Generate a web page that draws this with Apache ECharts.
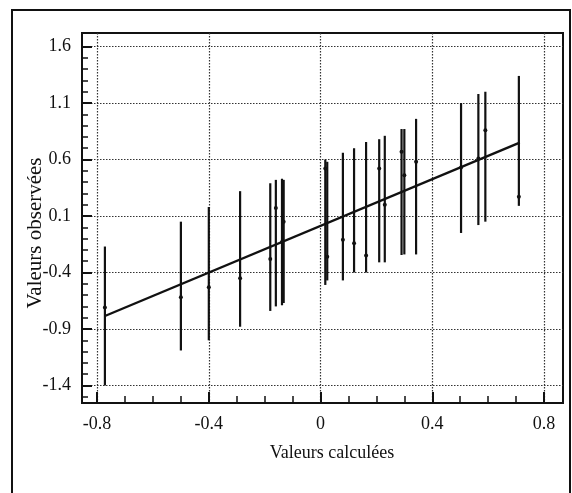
<!DOCTYPE html>
<html>
<head>
<meta charset="utf-8">
<script src="https://cdn.jsdelivr.net/npm/echarts@6/dist/echarts.min.js"></script>
<style>
  html, body { margin: 0; padding: 0; background: #fff; }
  #chart { width: 572px; height: 493px; }
</style>
</head>
<body>
<div id="chart"></div>
<script>
// barres : position calculée, bornes basse / haute, point observé
const barX    = [-0.772, -0.50, -0.40, -0.288, -0.18, -0.16, -0.138, -0.132, 0.017, 0.024, 0.08, 0.12, 0.163, 0.21, 0.23, 0.29, 0.30, 0.342, 0.503, 0.565, 0.59, 0.71];
const barLow  = [-1.40, -1.09, -1.00, -0.88, -0.74, -0.70, -0.69, -0.67, -0.51, -0.47, -0.47, -0.40, -0.40, -0.31, -0.31, -0.245, -0.24, -0.24, -0.05, 0.02, 0.05, 0.19];
const barHigh = [-0.17, 0.05, 0.18, 0.32, 0.39, 0.42, 0.43, 0.42, 0.60, 0.58, 0.66, 0.70, 0.755, 0.78, 0.81, 0.87, 0.87, 0.96, 1.10, 1.18, 1.20, 1.34];
const barMid  = [-0.71, -0.62, -0.53, -0.45, -0.28, 0.17, -0.13, 0.05, 0.52, -0.26, -0.11, -0.14, -0.25, 0.52, 0.20, 0.67, 0.46, 0.58, 0.53, 0.61, 0.86, 0.27];

// droite de régression
const fitX = [-0.772, 0.713];
const fitY = [-0.785, 0.75];

// graduations
const xTicks = [-0.8, -0.4, 0, 0.4, 0.8];
const xMinor = [-0.8, -0.7, -0.6, -0.5, -0.4, -0.3, -0.2, -0.1, 0, 0.1, 0.2, 0.3, 0.4, 0.5, 0.6, 0.7, 0.8];
const yTicks = [-1.4, -0.9, -0.4, 0.1, 0.6, 1.1, 1.6];
const yMinor = [-1.5, -1.4, -1.3, -1.2, -1.1, -1.0, -0.9, -0.8, -0.7, -0.6, -0.5, -0.4, -0.3, -0.2, -0.1, 0, 0.1, 0.2, 0.3, 0.4, 0.5, 0.6, 0.7, 0.8, 0.9, 1.0, 1.1, 1.2, 1.3, 1.4, 1.5, 1.6];

const font = 'Liberation Serif';
const ink = '#111';

const chart = echarts.init(document.getElementById('chart'));

const gridLine = { show: true, lineStyle: { color: '#333', width: 1.2, type: [1.5, 1.5] } };
const noLine = { show: false, onZero: false };

const option = {
  animation: false,
  grid: {
    left: 82, top: 33, width: 481, height: 370,
    show: true, borderColor: ink, borderWidth: 2, backgroundColor: 'transparent'
  },
  xAxis: [{
    type: 'value', min: -0.854, max: 0.868, position: 'bottom',
    axisLine: noLine,
    axisTick: { show: true, inside: true, length: 11, customValues: xTicks, lineStyle: { color: ink, width: 2 } },
    axisLabel: { customValues: xTicks, margin: 12, color: ink, fontFamily: font, fontSize: 18 },
    splitLine: gridLine
  }, {
    type: 'value', min: -0.854, max: 0.868, position: 'bottom',
    axisLine: noLine,
    axisTick: { show: true, inside: true, length: 7, customValues: xMinor, lineStyle: { color: ink, width: 1.5 } },
    axisLabel: { show: false },
    splitLine: { show: false }
  }],
  yAxis: [{
    type: 'value', min: -1.555, max: 1.72, position: 'left',
    axisLine: noLine,
    axisTick: { show: true, inside: true, length: 10, customValues: yTicks, lineStyle: { color: ink, width: 2 } },
    axisLabel: { customValues: yTicks, margin: 11, color: ink, fontFamily: font, fontSize: 18 },
    splitLine: gridLine
  }, {
    type: 'value', min: -1.555, max: 1.72, position: 'left',
    axisLine: noLine,
    axisTick: { show: true, inside: true, length: 6, customValues: yMinor, lineStyle: { color: ink, width: 1.5 } },
    axisLabel: { show: false },
    splitLine: { show: false }
  }],
  graphic: [
    { type: 'rect', shape: { x: 12, y: 10, width: 558, height: 500 }, style: { fill: 'none', stroke: ink, lineWidth: 2 }, z: 100 },
    { type: 'text', x: 332, y: 453, style: { text: 'Valeurs calculées', font: '18px "' + font + '"', fill: ink, align: 'center', verticalAlign: 'middle' } },
    { type: 'text', x: 35, y: 233, rotation: Math.PI / 2, style: { text: 'Valeurs observées', font: '21px "' + font + '"', fill: ink, align: 'center', verticalAlign: 'middle' } }
  ],
  series: [{
    type: 'custom',
    xAxisIndex: 0, yAxisIndex: 0,
    data: barX.map((x, i) => [x, barLow[i], barHigh[i], barMid[i]]),
    renderItem: function (params, api) {
      const x = api.value(0);
      const lo = api.coord([x, api.value(1)]);
      const hi = api.coord([x, api.value(2)]);
      const mid = api.coord([x, api.value(3)]);
      return {
        type: 'group',
        children: [
          { type: 'line', shape: { x1: lo[0], y1: lo[1], x2: hi[0], y2: hi[1] }, style: { stroke: ink, lineWidth: 2.2 } },
          { type: 'circle', shape: { cx: mid[0], cy: mid[1], r: 2 }, style: { fill: ink } }
        ]
      };
    },
    z: 3
  }, {
    type: 'line',
    xAxisIndex: 0, yAxisIndex: 0,
    data: fitX.map((x, i) => [x, fitY[i]]),
    symbol: 'none',
    lineStyle: { color: ink, width: 2.4 },
    z: 4
  }]
};

chart.setOption(option);
</script>
</body>
</html>
